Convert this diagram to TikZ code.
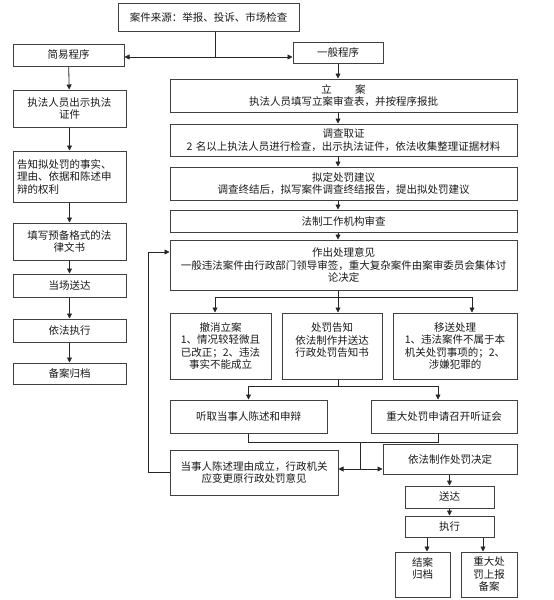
\documentclass[tikz,border=0pt]{standalone}
\usepackage{fontspec}
\setmainfont{Noto Sans CJK SC}
\usetikzlibrary{arrows.meta}
\XeTeXlinebreaklocale "zh"
\begin{document}
\begin{tikzpicture}[x=1pt,y=-1pt,
  box/.style={draw=black!75, line width=1pt, rectangle, inner sep=0pt, inner xsep=2pt,
    align=center, font=\fontsize{10.5}{12.5}\selectfont, text=black!90},
  ln/.style={draw=black!85, line width=0.8pt},
  arr/.style={ln, -{Triangle[length=5pt,width=5pt]}},
  darr/.style={ln, {Triangle[length=5pt,width=5pt]}-{Triangle[length=5pt,width=5pt]}}]
\useasboundingbox (0,0) rectangle (554,600);
% boxes
\node[box, minimum width=181pt, minimum height=28pt, text width=177pt] (src) at (208.5,17) {案件来源：举报、投诉、市场检查};
\node[box, minimum width=111pt, minimum height=22pt, text width=107pt] (jianyi) at (68.5,55) {简易程序};
\node[box, minimum width=90pt, minimum height=21pt, text width=86pt] (yiban) at (338,52.5) {一般程序};
\node[box, minimum width=347pt, minimum height=33pt, text width=343pt] (lian) at (343.5,95.5) {立\hspace{2.2em}案\\执法人员填写立案审查表，并按程序报批};
\node[box, minimum width=347pt, minimum height=32pt, text width=343pt] (diaocha) at (343.5,140) {调查取证\\2 名以上执法人员进行检查，出示执法证件，依法收集整理证据材料};
\node[box, minimum width=347pt, minimum height=33pt, text width=343pt] (niding) at (343.5,183.5) {拟定处罚建议\\调查终结后，拟写案件调查终结报告，提出拟处罚建议};
\node[box, minimum width=347pt, minimum height=22pt, text width=343pt] (fazhi) at (343.5,221) {法制工作机构审查};
\node[box, minimum width=347pt, minimum height=50pt, text width=343pt] (zuochu) at (343.5,265) {作出处理意见\\一般违法案件由行政部门领导审签，重大复杂案件由案审委员会集体讨\\论决定};
\node[box, minimum width=101pt, minimum height=66pt, text width=97pt] (chexiao) at (220.5,346) {撤消立案\\1、情况较轻微且\\已改正；2、违法\\事实不能成立};
\node[box, minimum width=100pt, minimum height=66pt, text width=96pt] (gaozhi) at (332,346) {处罚告知\\依法制作并送达\\行政处罚告知书\\\mbox{}};
\node[box, minimum width=124pt, minimum height=66pt, text width=120pt] (yisong) at (455,346) {移送处理\\1、违法案件不属于本\\机关处罚事项的；2、\\涉嫌犯罪的};
\node[box, minimum width=157pt, minimum height=33pt, text width=153pt] (tingqu) at (248.5,416.5) {听取当事人陈述和申辩};
\node[box, minimum width=146pt, minimum height=33pt, text width=142pt] (tingzheng) at (444,416.5) {重大处罚申请召开听证会};
\node[box, minimum width=168pt, minimum height=45pt, text width=164pt] (dangshi) at (254,472.5) {当事人陈述理由成立，行政机关\\应变更原行政处罚意见};
\node[box, minimum width=134pt, minimum height=30pt, text width=130pt] (jueding) at (450,459) {依法制作处罚决定};
\node[box, minimum width=89pt, minimum height=22pt, text width=85pt] (songda) at (449.5,497) {送达};
\node[box, minimum width=89pt, minimum height=21pt, text width=85pt] (zhixing) at (449.5,526.5) {执行};
\node[box, minimum width=55pt, minimum height=45pt, text width=51pt] (jiean) at (422.5,574.5) {结案\\归档\\\mbox{}};
\node[box, minimum width=56pt, minimum height=45pt, text width=52pt] (shangbao) at (489,574.5) {重大处\\罚上报\\备案};
% left column
\node[box, minimum width=113pt, minimum height=37pt, text width=109pt] (chushi) at (69.5,108.5) {执法人员出示执法\\证件};
\node[box, minimum width=113pt, minimum height=51pt, text width=105pt, align=left] (gaozhil) at (69.5,176.5) {告知拟处罚的事实、\\理由、依据和陈述申\\辩的权利};
\node[box, minimum width=113pt, minimum height=37pt, text width=109pt] (tianxie) at (69.5,241.5) {填写预备格式的法\\律文书};
\node[box, minimum width=113pt, minimum height=23pt, text width=109pt] (dangchang) at (69.5,285.5) {当场送达};
\node[box, minimum width=113pt, minimum height=23pt, text width=109pt] (yifa) at (69.5,330.5) {依法执行};
\node[box, minimum width=113pt, minimum height=21pt, text width=109pt] (beian) at (69.5,373.5) {备案归档};
% coordinates
\coordinate (j0) at (215,57);
\coordinate (b1) at (338,297);
\coordinate (b1l) at (215,297);
\coordinate (b1r) at (472,297);
\coordinate (b2) at (338,386);
\coordinate (b2l) at (248.5,386);
\coordinate (b2r) at (438,386);
\coordinate (m1) at (248.5,442);
\coordinate (m2) at (438,442);
\coordinate (m3) at (360,442);
\coordinate (m4) at (360,469);
\coordinate (fb) at (148.5,252);
\coordinate (ja) at (427,545);
\coordinate (jb) at (483,545);
% top split
\draw[ln] (src.south -| j0) -- (j0);
\draw[arr] (j0) -- (j0 -| jianyi.east);
\draw[arr] (j0) -- (j0 -| yiban.west);
% left column
\draw[arr] (jianyi) -- (chushi);
\draw[arr] (chushi) -- (gaozhil);
\draw[arr] (gaozhil) -- (tianxie);
\draw[arr] (tianxie) -- (dangchang);
\draw[arr] (dangchang) -- (yifa);
\draw[arr] (yifa) -- (beian);
% right column
\draw[arr] (yiban.south) -- (yiban.south |- lian.north);
\draw[arr] (lian.south -| yiban) -- (diaocha.north -| yiban);
\draw[arr] (diaocha.south -| yiban) -- (niding.north -| yiban);
\draw[arr] (niding.south -| yiban) -- (fazhi.north -| yiban);
\draw[arr] (fazhi.south -| yiban) -- (zuochu.north -| yiban);
% three-way branch
\draw[ln] (zuochu.south -| yiban) -- (b1);
\draw[ln] (b1l) -- (b1r);
\draw[arr] (b1l) -- (b1l |- chexiao.north);
\draw[arr] (b1) -- (b1 |- gaozhi.north);
\draw[arr] (b1r) -- (b1r |- yisong.north);
% from 处罚告知
\draw[ln] (gaozhi.south -| b2) -- (b2);
\draw[ln] (b2l) -- (b2r);
\draw[arr] (b2l) -- (tingqu.north);
\draw[arr] (b2r) -- (b2r |- tingzheng.north);
% join
\draw[ln] (tingqu.south) -- (m1) -- (m2) -- (m2 |- tingzheng.south);
\draw[ln] (m3) -- (m4);
\draw[arr] (m4) -- (m4 -| dangshi.east);
\draw[arr] (m4) -- (m4 -| jueding.west);
% feedback
\draw[arr] (dangshi.west) -| (fb) -- (fb -| zuochu.west);
% bottom
\draw[arr] (jueding.south -| songda) -- (songda.north);
\draw[arr] (songda) -- (zhixing);
\draw[arr] (zhixing.south -| ja) -- (ja |- jiean.north);
\draw[arr] (zhixing.south -| jb) -- (jb |- shangbao.north);
\end{tikzpicture}
\end{document}
